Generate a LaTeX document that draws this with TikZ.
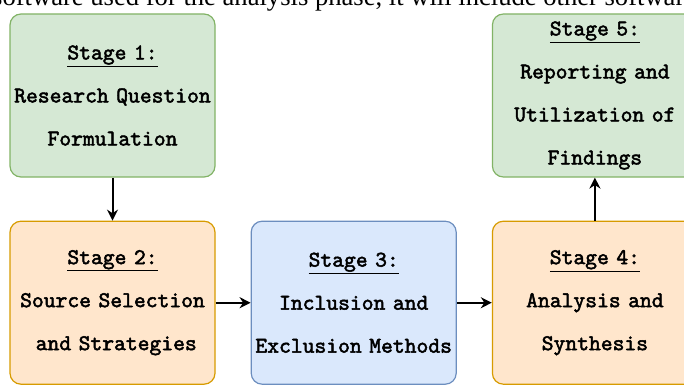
\documentclass[tikz,border=0pt]{standalone}
\usepackage{fontspec}
\setmainfont{Liberation Serif}
\newfontfamily\stagefont[FakeBold=2.2]{lmmono10-regular.otf}
\usepackage{xcolor}
\usetikzlibrary{arrows.meta,positioning}
\definecolor{greenfill}{HTML}{D5E8D4}
\definecolor{greenline}{HTML}{82B366}
\definecolor{orangefill}{HTML}{FFE6CC}
\definecolor{orangeline}{HTML}{D79B00}
\definecolor{bluefill}{HTML}{DAE8FC}
\definecolor{blueline}{HTML}{6C8EBF}
\tikzset{
  stagebox/.style={rectangle,rounded corners=11pt,line width=1.2pt,
               minimum width=205pt,minimum height=163pt,text width=204pt,
               align=center,inner sep=0pt,
               font=\fontsize{22.5}{43}\selectfont\stagefont},
  greenbox/.style={stagebox,draw=greenline,fill=greenfill},
  orangebox/.style={stagebox,draw=orangeline,fill=orangefill},
  bluebox/.style={stagebox,draw=blueline,fill=bluefill},
  arr/.style={-{Stealth[length=11pt,width=11pt]},line width=2pt,color=black},
}

\begin{document}
\begin{tikzpicture}[node distance=43pt and 35pt]
  \useasboundingbox (0,0) rectangle (684pt,384pt);
  \clip (0,0) rectangle (684pt,384pt);

  % --- cut-off body text above the figure ---
  \node[anchor=base west,inner sep=0pt,font=\fontsize{26.6}{32}\selectfont]
    (bodyline) at (-8pt,378pt)
    {software used for the analysis phase, it will include other software};

  % --- stages ---
  \node[greenbox] (s1) at (112.5pt,288.5pt)
    {\underline{Stage 1:}\\Research Question\\Formulation};

  \node[orangebox, below=of s1] (s2)
    {\underline{Stage 2:}\\Source Selection\\~and Strategies};

  \node[bluebox, right=of s2] (s3)
    {\underline{Stage 3:}\\Inclusion and\\Exclusion Methods};

  \node[orangebox, right=of s3] (s4)
    {\underline{Stage 4:}\\Analysis and\\Synthesis};

  \node[greenbox, above=of s4] (s5)
    {\underline{Stage 5:}\\Reporting and\\Utilization of\\Findings};

  % --- arrows ---
  \draw[arr] (s1) -- (s2);
  \draw[arr] (s2) -- (s3);
  \draw[arr] (s3) -- (s4);
  \draw[arr] (s4) -- (s5);
\end{tikzpicture}
\end{document}
